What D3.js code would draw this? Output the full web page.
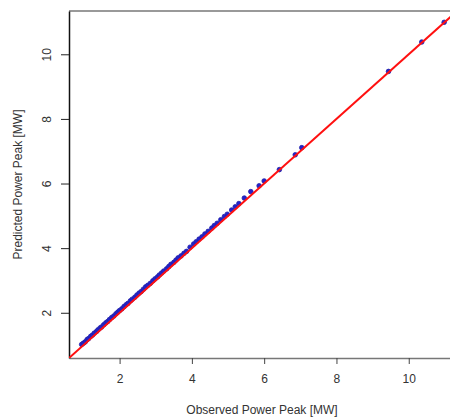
<!DOCTYPE html>
<html>
<head>
<meta charset="utf-8">
<script src="https://cdn.jsdelivr.net/npm/d3@7"></script>
<style>
  body { margin: 0; background: #fff; }
  text { font-family: "Liberation Sans", Arial, sans-serif; fill: #333; }
</style>
</head>
<body>
<div id="main"></div>
<script>
var observed = [0.95, 1.0, 1.05, 1.1, 1.14, 1.2, 1.25, 1.3, 1.36, 1.4, 1.46, 1.5, 1.56, 1.62, 1.67, 1.72, 1.78, 1.84, 1.9, 1.95,
    2.0, 2.06, 2.12, 2.18, 2.23, 2.3, 2.35, 2.42, 2.48, 2.54, 2.6, 2.66, 2.72, 2.78, 2.85, 2.92, 2.98, 3.05, 3.1, 3.16,
    3.22, 3.3, 3.36, 3.42, 3.5, 3.56, 3.62, 3.7, 3.78, 3.85, 3.95, 4.05, 4.12, 4.2, 4.28, 4.36, 4.45, 4.55, 4.62, 4.7,
    4.8, 4.9, 4.98, 5.1, 5.2, 5.3, 5.45, 5.63, 5.86, 6.0, 6.42, 6.86, 7.04, 9.44, 10.36, 10.98];
var predicted = [1.02, 1.06, 1.1, 1.17, 1.2, 1.27, 1.31, 1.37, 1.42, 1.47, 1.53, 1.56, 1.63, 1.69, 1.73, 1.79, 1.85, 1.9, 1.97, 2.02,
    2.07, 2.12, 2.19, 2.25, 2.29, 2.37, 2.42, 2.48, 2.55, 2.61, 2.66, 2.73, 2.8, 2.85, 2.91, 2.99, 3.05, 3.11, 3.17, 3.23,
    3.29, 3.36, 3.43, 3.5, 3.56, 3.63, 3.7, 3.76, 3.84, 3.9, 4.03, 4.13, 4.2, 4.28, 4.35, 4.44, 4.52, 4.62, 4.7, 4.77,
    4.88, 4.98, 5.05, 5.18, 5.28, 5.38, 5.55, 5.75, 5.93, 6.08, 6.43, 6.89, 7.11, 9.47, 10.38, 10.99];
var xTicks = [2, 4, 6, 8, 10];
var yTicks = [2, 4, 6, 8, 10];
var xDomain = [0.6, 11.28];
var yDomain = [0.6, 11.34];

var outerWidth = 450, outerHeight = 419;
var marginLeft = 69, marginTop = 11, plotRight = 455, plotBottom = 358;

var xScale = d3.scaleLinear().domain(xDomain).range([marginLeft, plotRight]);
var yScale = d3.scaleLinear().domain(yDomain).range([plotBottom, marginTop]);

var svg = d3.select("#main")
    .append("svg")
    .attr("width", outerWidth)
    .attr("height", outerHeight);

svg.append("defs").append("clipPath").attr("id", "clip")
    .append("rect")
    .attr("x", marginLeft).attr("y", marginTop)
    .attr("width", plotRight - marginLeft).attr("height", plotBottom - marginTop);

// box
svg.append("line")
    .attr("x1", marginLeft).attr("x2", plotRight)
    .attr("y1", marginTop).attr("y2", marginTop)
    .attr("stroke", "#777").attr("stroke-width", 1.3);

var xAxisG = svg.append("g")
    .attr("transform", "translate(0," + plotBottom + ")")
    .call(d3.axisBottom(xScale).tickValues(xTicks).tickSize(6).tickSizeOuter(0).tickPadding(10));
xAxisG.select(".domain").attr("stroke", "#777").attr("stroke-width", 1.3);
xAxisG.selectAll(".tick line").attr("stroke", "#444");
xAxisG.selectAll("text").style("font-size", "12px").style("fill", "#333");

var yAxisG = svg.append("g")
    .attr("transform", "translate(" + marginLeft + ",0)")
    .call(d3.axisLeft(yScale).tickValues(yTicks).tickSize(8).tickSizeOuter(0).tickPadding(0));
yAxisG.select(".domain").attr("stroke", "#111").attr("stroke-width", 1.5);
yAxisG.selectAll(".tick line").attr("stroke", "#222");
yAxisG.selectAll("text")
    .attr("x", 0).attr("dy", 0)
    .attr("text-anchor", "middle")
    .attr("transform", "translate(-18,0) rotate(-90)")
    .style("font-size", "12px").style("fill", "#333");

var plot = svg.append("g").attr("clip-path", "url(#clip)");

var points = observed.map((d, i) => ({ obs: d, pred: predicted[i] }));

plot.selectAll("circle")
    .data(points)
    .enter()
    .append("circle")
    .attr("cx", d => xScale(d.obs))
    .attr("cy", d => yScale(d.pred))
    .attr("r", 2.3)
    .attr("fill", "#2222cc")
    .attr("stroke", "#2222aa")
    .attr("stroke-width", 0.8);

// 1:1 line
plot.append("line")
    .attr("x1", xScale(0.6)).attr("y1", yScale(0.6))
    .attr("x2", xScale(12)).attr("y2", yScale(12))
    .attr("stroke", "#ff1010")
    .attr("stroke-width", 2);

svg.append("text")
    .attr("x", (marginLeft + plotRight) / 2)
    .attr("y", 414)
    .attr("text-anchor", "middle")
    .style("font-size", "12px")
    .text("Observed Power Peak [MW]");

svg.append("text")
    .attr("transform", "translate(22," + ((marginTop + plotBottom) / 2) + ") rotate(-90)")
    .attr("text-anchor", "middle")
    .style("font-size", "12px")
    .text("Predicted Power Peak [MW]");
</script>
</body>
</html>
